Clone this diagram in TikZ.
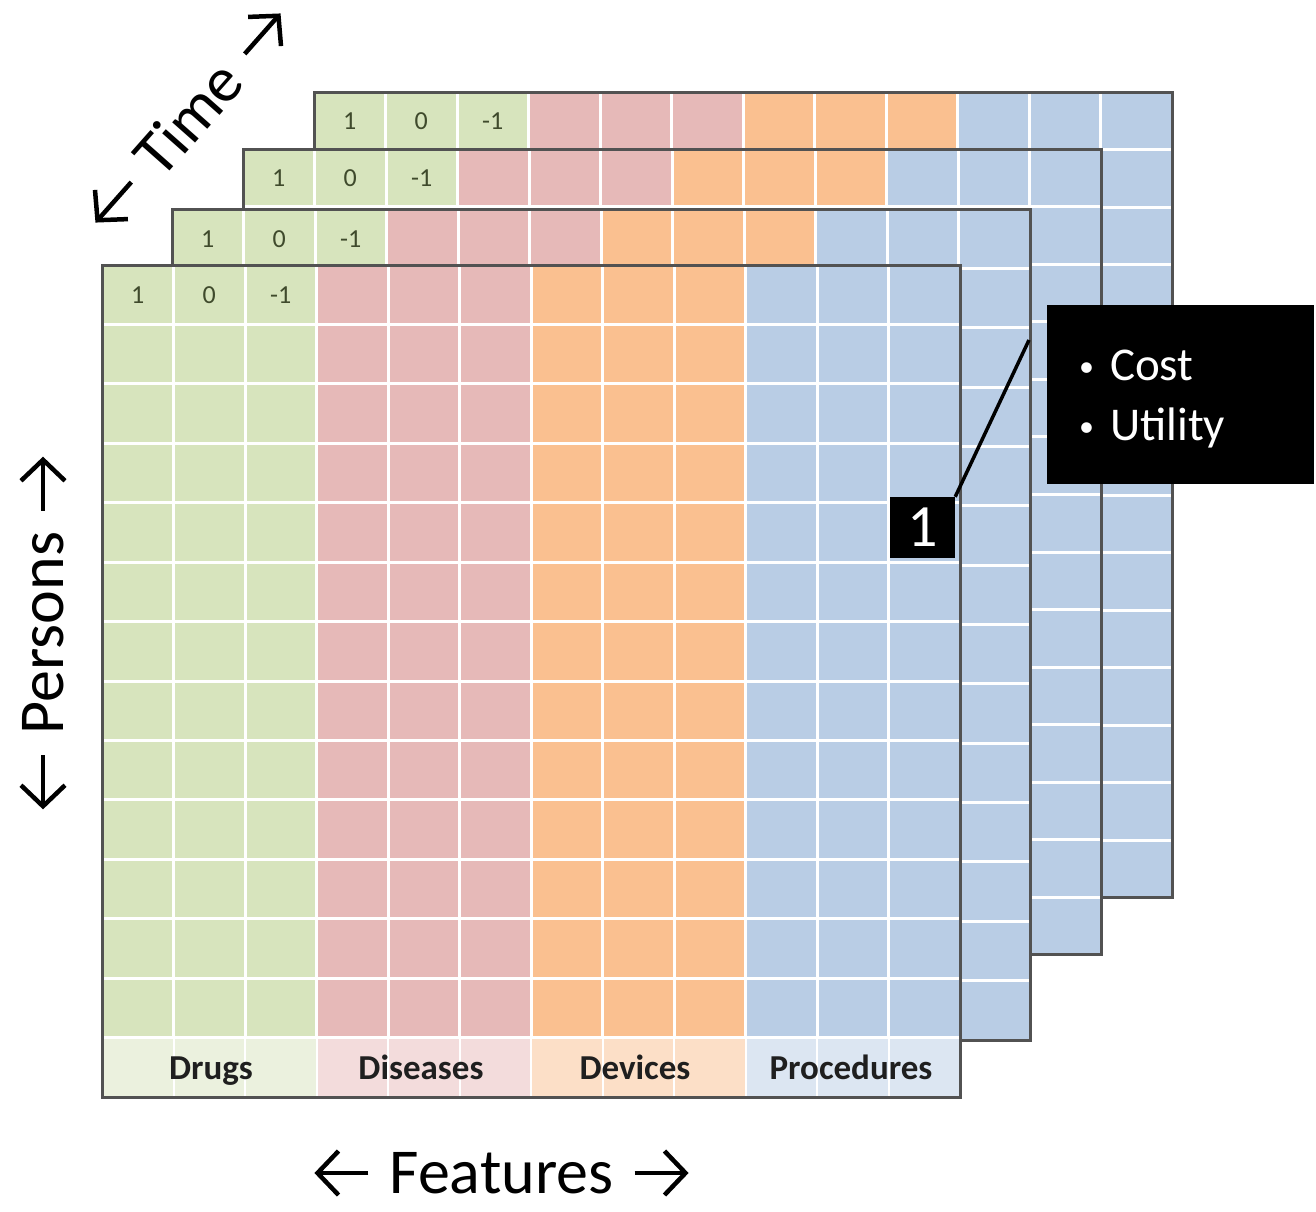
\documentclass[tikz,border=0pt]{standalone}
\usepackage{fontspec}
\setmainfont{Carlito}
\usetikzlibrary{arrows.meta,calc}
\definecolor{cgreen}{HTML}{D7E4BD}
\definecolor{cpink}{HTML}{E6B9B8}
\definecolor{corange}{HTML}{FAC090}
\definecolor{cblue}{HTML}{B9CDE5}
\definecolor{numc}{HTML}{3F4A2C}
\tikzset{
  wline/.style={draw=white, line width=3pt},
  lwline/.style={draw=white, line width=2pt},
  border/.style={draw=black!68, line width=3pt},
  num/.style={font=\fontsize{26}{26}\selectfont, text=numc, inner sep=0pt},
  lab/.style={font=\fontsize{35}{35}\selectfont\bfseries, text=black!88, inner sep=0pt, anchor=base},
  axislab/.style={font=\fontsize{64}{64}\selectfont, inner sep=0pt},
  axarrow/.style={line width=4.5pt, -{Straight Barb[length=21pt,width=44pt]}},
  callbox/.style={fill=black, inner sep=0pt},
  calltext/.style={font=\fontsize{47}{47}\selectfont, text=white, inner sep=0pt, anchor=base west},
}
\newcommand{\mylayer}[4]{%
  \pgfmathsetmacro{\ybot}{#3+14*#4}
  \pgfmathsetmacro{\xr}{#2+858}
  \fill[cgreen] (#2,#3) rectangle ({#2+214.5},\ybot);
  \fill[cpink] ({#2+214.5},#3) rectangle ({#2+429},\ybot);
  \fill[corange] ({#2+429},#3) rectangle ({#2+643.5},\ybot);
  \fill[cblue] ({#2+643.5},#3) rectangle (\xr,\ybot);
  \foreach \i in {1,...,11}{\draw[wline] ({#2+\i*71.5},#3) -- ({#2+\i*71.5},\ybot);}
  \foreach \j in {1,...,13}{\draw[wline] (#2,{#3+\j*#4}) -- (\xr,{#3+\j*#4});}
  \draw[border] (#2,#3) rectangle (\xr,\ybot);
  \node[num] (a#1) at ({#2+35.75},{#3+0.5*#4}) {1};
  \node[num] (b#1) at ({#2+107.25},{#3+0.5*#4}) {0};
  \node[num] (c#1) at ({#2+178.75},{#3+0.5*#4}) {-1};
}
\newcommand{\twoarrows}[1]{%
  \draw[axarrow] ($(#1.west)!-21pt!(#1.east)$) -- ($(#1.west)!-75pt!(#1.east)$);
  \draw[axarrow] ($(#1.east)!-21pt!(#1.west)$) -- ($(#1.east)!-75pt!(#1.west)$);
}
\begin{document}
\begin{tikzpicture}[x=1pt,y=-1pt]
\useasboundingbox (0,0) rectangle (1316,1211);
\fill[white] (0,0) rectangle (1316,1211);
% layers, back to front
\mylayer{4}{314}{92}{57.57}
\mylayer{3}{243}{149}{57.57}
\mylayer{2}{172}{209}{59.36}
\mylayer{1}{102}{265}{59.43}
% label row of the front layer
\fill[cgreen!50!white] (102,1039) rectangle (316.5,1097);
\fill[cpink!50!white] (316.5,1039) rectangle (531,1097);
\fill[corange!50!white] (531,1039) rectangle (745.5,1097);
\fill[cblue!50!white] (745.5,1039) rectangle (960,1097);
\foreach \i in {1,...,11}{\draw[lwline] ({102+\i*71.5},1039) -- ({102+\i*71.5},1097);}
\draw[border] (102,265) rectangle (960,1097);
\node[lab] (drugs) at (211,1079) {Drugs};
\node[lab] (dis) at (421,1079) {Diseases};
\node[lab] (dev) at (635,1079) {Devices};
\node[lab] (proc) at (851,1079) {Procedures};
% axis labels
\node[axislab, rotate=90] (persons) at (43,633) {Persons};
\twoarrows{persons}
\node[axislab] (features) at (501.5,1173) {Features};
\twoarrows{features}
\node[axislab, rotate=48.5] (time) at (188,118) {Time};
\twoarrows{time}
% callout
\coordinate (tip) at (1029,340);
\node[callbox, minimum width=65pt, minimum height=61pt, text=white, font=\fontsize{60}{60}\selectfont] (one) at (922.5,527.5) {1};
\draw[line width=3.5pt, black] (one.north east) -- (tip);
\node[callbox, minimum width=267pt, minimum height=179pt] (cb) at (1180.5,394.5) {};
\node[calltext] (cost) at (1079,380) {\raisebox{4pt}{\fontsize{30}{30}\selectfont•}\hspace{16pt}Cost};
\node[calltext] (util) at (1079,440) {\raisebox{4pt}{\fontsize{30}{30}\selectfont•}\hspace{16pt}Utility};
\end{tikzpicture}
\end{document}
